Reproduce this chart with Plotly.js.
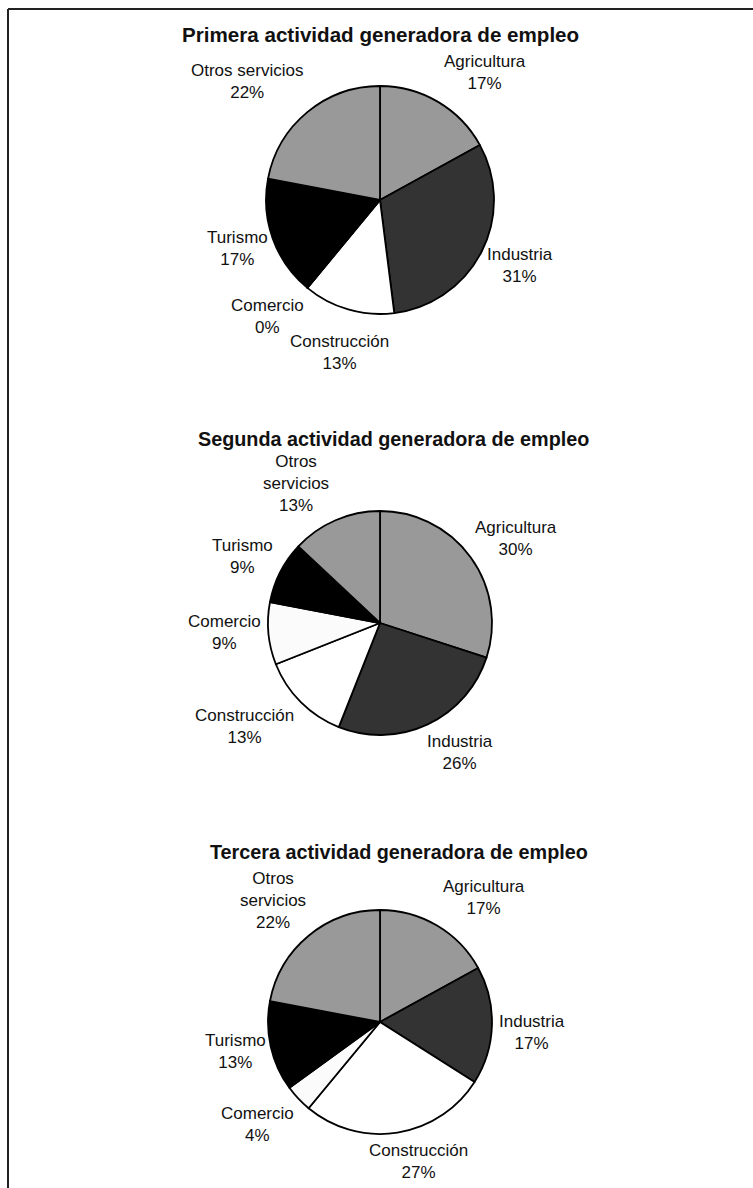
<!DOCTYPE html>
<html>
<head>
<meta charset="utf-8">
<script src="https://cdn.plot.ly/plotly-3.0.1.min.js"></script>
<style>html,body{margin:0;padding:0;background:#fff;}#chart{width:753px;height:1188px;}</style>
</head>
<body>
<div id="chart"></div>
<script>
// ---- data ----
var categories = ['Agricultura', 'Industria', 'Construcción', 'Comercio', 'Turismo', 'Otros servicios'];
var primera = [17, 31, 13, 0, 17, 22];
var segunda = [30, 26, 13, 9, 9, 13];
var tercera = [17, 17, 27, 4, 13, 22];
var chartTitles = ['Primera actividad generadora de empleo',
                   'Segunda actividad generadora de empleo',
                   'Tercera actividad generadora de empleo'];
var sliceColors = ['#999999', '#333333', '#ffffff', '#fbfbfb', '#000000', '#999999'];

// ---- layout (pixel geometry) ----
var W = 753, H = 1188;
var pies = [
  {values: primera, cx: 380, cy: 200, r: 114, title: [380, 34], titleSize: 20.6, wrapOtros: false,
   lab: [[485, 73], [520, 265], [339, 352], [267, 316], [237, 249], [247, 82]]},
  {values: segunda, cx: 380, cy: 623, r: 112, title: [393, 439], titleSize: 19.8, wrapOtros: true,
   lab: [[516, 538], [460, 752], [244, 726], [224, 632], [242, 556], [296, 483]]},
  {values: tercera, cx: 380, cy: 1022, r: 112, title: [399, 852], titleSize: 19.8, wrapOtros: true,
   lab: [[484, 897], [532, 1032], [419, 1161], [257, 1124], [235, 1051], [273, 900]]}
];

function px(x) { return x / W; }
function py(y) { return 1 - y / H; }

var traces = [];
var annotations = [];
var labelFont = {family: 'Liberation Sans, Arial, sans-serif', size: 17, color: '#111'};

pies.forEach(function (p, k) {
  traces.push({
    type: 'pie',
    values: p.values,
    labels: categories,
    sort: false,
    direction: 'clockwise',
    rotation: 0,
    textinfo: 'none',
    hoverinfo: 'label+percent',
    showlegend: false,
    marker: {colors: sliceColors, line: {color: '#000', width: 1.8}},
    domain: {x: [px(p.cx - p.r), px(p.cx + p.r)], y: [py(p.cy + p.r), py(p.cy - p.r)]}
  });
  annotations.push({
    xref: 'paper', yref: 'paper', x: px(p.title[0]), y: py(p.title[1]),
    xanchor: 'center', yanchor: 'middle', showarrow: false, borderpad: 0,
    text: '<b>' + chartTitles[k] + '</b>',
    font: {family: 'Liberation Sans, Arial, sans-serif', size: p.titleSize, color: '#111'}
  });
  categories.forEach(function (c, i) {
    var name = c;
    if (p.wrapOtros && c === 'Otros servicios') name = 'Otros<br>servicios';
    annotations.push({
      xref: 'paper', yref: 'paper', x: px(p.lab[i][0]), y: py(p.lab[i][1]),
      xanchor: 'center', yanchor: 'middle', showarrow: false, align: 'center', borderpad: 0,
      text: name + '<br>' + p.values[i] + '%',
      font: labelFont
    });
  });
});

var layout = {
  width: W, height: H,
  margin: {l: 0, r: 0, t: 0, b: 0},
  paper_bgcolor: '#fff',
  showlegend: false,
  annotations: annotations,
  shapes: [
    {type: 'line', xref: 'paper', yref: 'paper', x0: px(8), x1: 1, y0: py(9), y1: py(9), line: {color: '#222', width: 2}},
    {type: 'line', xref: 'paper', yref: 'paper', x0: px(8), x1: px(8), y0: py(9), y1: 0, line: {color: '#222', width: 2}}
  ]
};

Plotly.newPlot('chart', traces, layout, {displayModeBar: false, staticPlot: true});
</script>
</body>
</html>
